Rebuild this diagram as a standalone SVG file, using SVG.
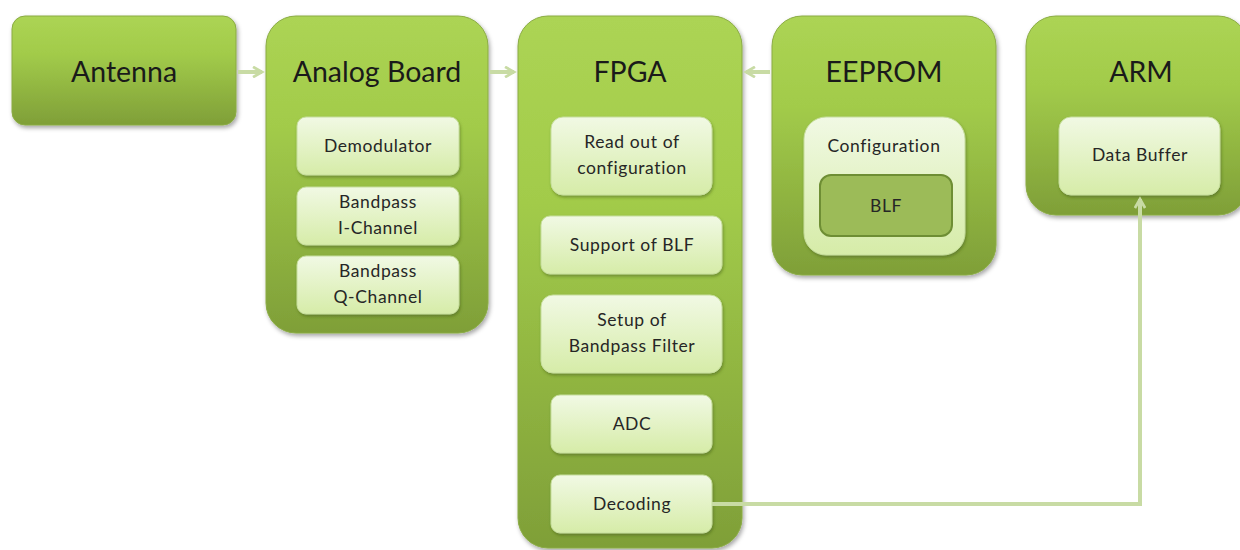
<svg xmlns="http://www.w3.org/2000/svg" width="1240" height="550" viewBox="0 0 1240 550">
<defs>
<linearGradient id="gOuter" x1="0" y1="0" x2="0" y2="1">
<stop offset="0" stop-color="#acd454"/>
<stop offset="0.35" stop-color="#a2cb4a"/>
<stop offset="1" stop-color="#7f9f38"/>
</linearGradient>
<linearGradient id="gInner" x1="0" y1="0" x2="0" y2="1">
<stop offset="0" stop-color="#f1f9e4"/>
<stop offset="1" stop-color="#d6eca8"/>
</linearGradient>
<filter id="sh" x="-10%" y="-10%" width="130%" height="130%">
<feDropShadow dx="1.5" dy="2.5" stdDeviation="2" flood-color="#000" flood-opacity="0.35"/>
</filter>
<filter id="shs" x="-10%" y="-10%" width="130%" height="130%">
<feDropShadow dx="1" dy="2" stdDeviation="1.5" flood-color="#3d5214" flood-opacity="0.45"/>
</filter>
<marker id="arr" viewBox="0 0 10 10" refX="8" refY="5" markerWidth="3.2" markerHeight="3.2" orient="auto">
<path d="M1,1 L8,5 L1,9" fill="none" stroke="#c8dba4" stroke-width="2.2"/>
</marker>
</defs>
<style>
.outer{fill:url(#gOuter);stroke:#8aab44;stroke-width:1;filter:url(#sh)}
.inner{fill:url(#gInner);stroke:#c6de9c;stroke-width:1;filter:url(#shs)}
.title{font-family:Lato,"Liberation Sans",sans-serif;font-size:28.5px;fill:#1a1a1a;text-anchor:middle}
.lbl{font-family:Lato,"Liberation Sans",sans-serif;font-size:17.5px;letter-spacing:0.6px;fill:#262626;text-anchor:middle}
.conn{fill:none;stroke:#c8dba4;stroke-width:4}
</style>
<g id="antenna">
<rect class="outer" x="12" y="16" width="224" height="109" rx="13"/>
<text class="title" x="124" y="82">Antenna</text>
</g>
<g id="analog-board">
<rect class="outer" x="266" y="16" width="222" height="317" rx="30"/>
<text class="title" x="377" y="82">Analog Board</text>
<g id="demodulator"><rect class="inner" x="297" y="117" width="162" height="58" rx="9"/><text class="lbl" x="378" y="152">Demodulator</text></g>
<g id="bandpass-i"><rect class="inner" x="297" y="187" width="162" height="58" rx="9"/><text class="lbl" x="378" y="208">Bandpass</text><text class="lbl" x="378" y="234">I-Channel</text></g>
<g id="bandpass-q"><rect class="inner" x="297" y="256" width="162" height="58" rx="9"/><text class="lbl" x="378" y="277">Bandpass</text><text class="lbl" x="378" y="303">Q-Channel</text></g>
</g>
<g id="fpga">
<rect class="outer" x="518" y="16" width="224" height="532" rx="30"/>
<text class="title" x="630" y="82">FPGA</text>
<g id="readout"><rect class="inner" x="551" y="117" width="161" height="78" rx="12"/><text class="lbl" x="632" y="148">Read out of</text><text class="lbl" x="632" y="174">configuration</text></g>
<g id="support-blf"><rect class="inner" x="541" y="216" width="181" height="58" rx="9"/><text class="lbl" x="632" y="251">Support of BLF</text></g>
<g id="setup-bandpass"><rect class="inner" x="541" y="295" width="181" height="78" rx="12"/><text class="lbl" x="632" y="326">Setup of</text><text class="lbl" x="632" y="352">Bandpass Filter</text></g>
<g id="adc"><rect class="inner" x="551" y="395" width="161" height="58" rx="9"/><text class="lbl" x="632" y="430">ADC</text></g>
<g id="decoding"><rect class="inner" x="551" y="475" width="161" height="58" rx="9"/><text class="lbl" x="632" y="510">Decoding</text></g>
</g>
<g id="eeprom">
<rect class="outer" x="772" y="16" width="224" height="259" rx="30"/>
<text class="title" x="884" y="82">EEPROM</text>
<g id="configuration"><rect class="inner" x="804" y="117" width="161" height="138" rx="22"/><text class="lbl" x="884" y="152">Configuration</text>
<g id="blf"><rect x="820" y="175" width="132" height="61" rx="11" fill="#9cbb58" stroke="#6e8e34" stroke-width="2"/><text class="lbl" x="886" y="212">BLF</text></g></g>
</g>
<g id="arm">
<rect class="outer" x="1026" y="16" width="222" height="199" rx="30"/>
<text class="title" x="1141" y="82">ARM</text>
<g id="data-buffer"><rect class="inner" x="1059" y="117" width="161" height="78" rx="12"/><text class="lbl" x="1140" y="161">Data Buffer</text></g>
</g>
<g id="connectors">
<line class="conn" x1="238" y1="72" x2="262" y2="72" marker-end="url(#arr)"/>
<line class="conn" x1="490" y1="72" x2="514" y2="72" marker-end="url(#arr)"/>
<line class="conn" x1="770" y1="72" x2="746" y2="72" marker-end="url(#arr)"/>
<polyline class="conn" points="712,504 1140,504 1140,199" marker-end="url(#arr)"/>
</g>
</svg>
